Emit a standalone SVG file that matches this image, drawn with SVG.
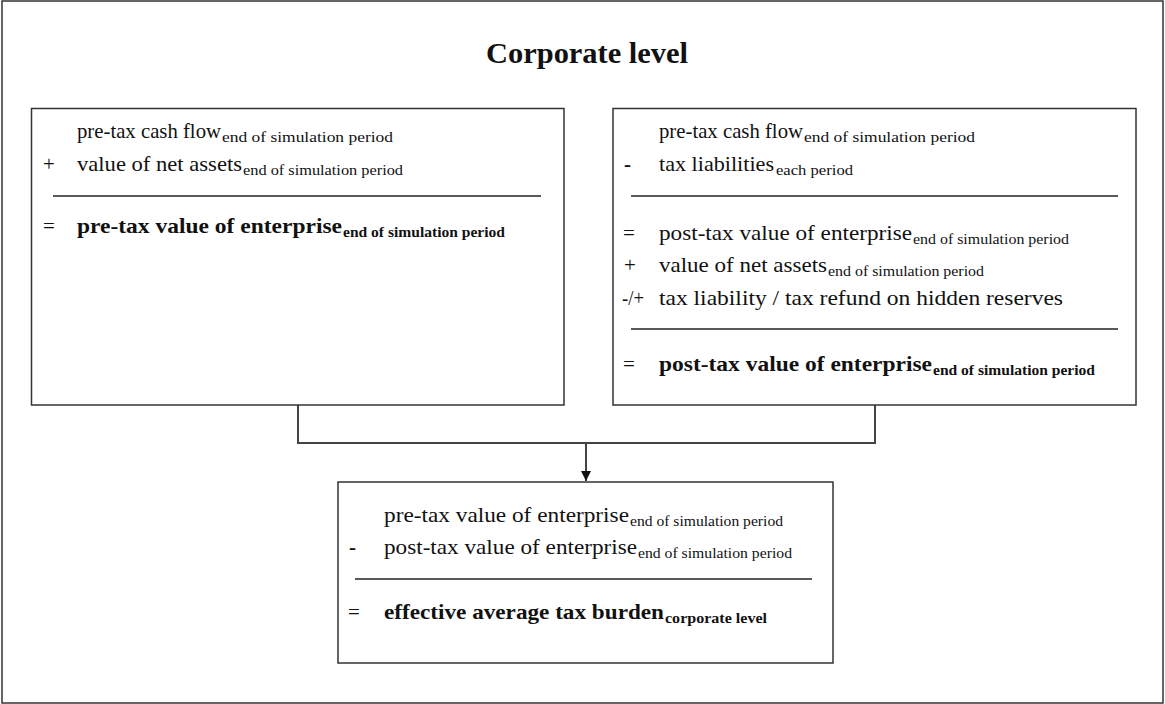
<svg xmlns="http://www.w3.org/2000/svg" width="1165" height="704" viewBox="0 0 1165 704">
<defs>
<style>
text{font-family:"Liberation Serif","Times New Roman",serif;fill:#111;}
.m{font-size:21px;}
.s{font-size:14px;}
.b{font-size:22px;font-weight:bold;}
.bs{font-size:15px;font-weight:bold;}
.t{font-size:29px;font-weight:bold;}
.box{fill:#fff;stroke:#333;stroke-width:1.5;}
.rule{stroke:#222;stroke-width:1.3;fill:none;}
.conn{stroke:#444;stroke-width:2;fill:none;}
</style>
<marker id="arr" markerWidth="10" markerHeight="10" refX="10" refY="5" orient="auto" markerUnits="userSpaceOnUse">
<path d="M0,0 L10,5 L0,10 Z" fill="#111"/>
</marker>
</defs>
<rect width="1165" height="704" fill="#fff"/>
<rect x="2" y="1" width="1161" height="702" fill="none" stroke="#333" stroke-width="1.5"/>
<g id="title">
<text class="t" x="486" y="63" textLength="202" lengthAdjust="spacingAndGlyphs">Corporate level</text>
</g>
<g id="connectors">
<path class="conn" d="M298,405 V443 H875 V405"/>
<path class="conn" d="M586,443 V481" marker-end="url(#arr)"/>
</g>
<g id="pretax-box">
<rect class="box" x="31.5" y="108.5" width="532.5" height="296.5"/>
<text class="m" x="77" y="138" textLength="144" lengthAdjust="spacingAndGlyphs">pre-tax cash flow</text>
<text class="s" x="222" y="142" textLength="171" lengthAdjust="spacingAndGlyphs">end of simulation period</text>
<text class="m" x="43" y="171">+</text>
<text class="m" x="77" y="171" textLength="165" lengthAdjust="spacingAndGlyphs">value of net assets</text>
<text class="s" x="243" y="175" textLength="160" lengthAdjust="spacingAndGlyphs">end of simulation period</text>
<path class="rule" d="M53,196 H541"/>
<text class="m" x="43" y="233">=</text>
<text class="b" x="77" y="233" textLength="265" lengthAdjust="spacingAndGlyphs">pre-tax value of enterprise</text>
<text class="bs" x="343" y="237" textLength="162" lengthAdjust="spacingAndGlyphs">end of simulation period</text>
</g>
<g id="posttax-box">
<rect class="box" x="613" y="108.5" width="523" height="296.5"/>
<text class="m" x="659" y="138" textLength="144" lengthAdjust="spacingAndGlyphs">pre-tax cash flow</text>
<text class="s" x="804" y="142" textLength="171" lengthAdjust="spacingAndGlyphs">end of simulation period</text>
<text class="m" x="624" y="171" font-weight="bold">-</text>
<text class="m" x="659" y="171" textLength="115" lengthAdjust="spacingAndGlyphs">tax liabilities</text>
<text class="s" x="776" y="175" textLength="77" lengthAdjust="spacingAndGlyphs">each period</text>
<path class="rule" d="M631,196 H1118"/>
<text class="m" x="623" y="240">=</text>
<text class="m" x="659" y="240" textLength="253" lengthAdjust="spacingAndGlyphs">post-tax value of enterprise</text>
<text class="s" x="913" y="244" textLength="156" lengthAdjust="spacingAndGlyphs">end of simulation period</text>
<text class="m" x="624" y="272">+</text>
<text class="m" x="659" y="272" textLength="168" lengthAdjust="spacingAndGlyphs">value of net assets</text>
<text class="s" x="828" y="276" textLength="156" lengthAdjust="spacingAndGlyphs">end of simulation period</text>
<text class="m" x="622" y="305" font-size="18" textLength="22" lengthAdjust="spacingAndGlyphs">-/+</text>
<text class="m" x="659" y="305" textLength="404" lengthAdjust="spacingAndGlyphs">tax liability / tax refund on hidden reserves</text>
<path class="rule" d="M631,329 H1118"/>
<text class="m" x="623" y="371">=</text>
<text class="b" x="659" y="371" textLength="273" lengthAdjust="spacingAndGlyphs">post-tax value of enterprise</text>
<text class="bs" x="933" y="375" textLength="162" lengthAdjust="spacingAndGlyphs">end of simulation period</text>
</g>
<g id="burden-box">
<rect class="box" x="338" y="482" width="495" height="181"/>
<text class="m" x="384" y="522" textLength="245" lengthAdjust="spacingAndGlyphs">pre-tax value of enterprise</text>
<text class="s" x="630" y="526" textLength="153" lengthAdjust="spacingAndGlyphs">end of simulation period</text>
<text class="m" x="349" y="554" font-weight="bold">-</text>
<text class="m" x="384" y="554" textLength="253" lengthAdjust="spacingAndGlyphs">post-tax value of enterprise</text>
<text class="s" x="638" y="558" textLength="154" lengthAdjust="spacingAndGlyphs">end of simulation period</text>
<path class="rule" d="M355,579 H812"/>
<text class="m" x="348" y="619">=</text>
<text class="b" x="384" y="619" textLength="280" lengthAdjust="spacingAndGlyphs">effective average tax burden</text>
<text class="bs" x="665" y="623" textLength="102" lengthAdjust="spacingAndGlyphs">corporate level</text>
</g>
</svg>
